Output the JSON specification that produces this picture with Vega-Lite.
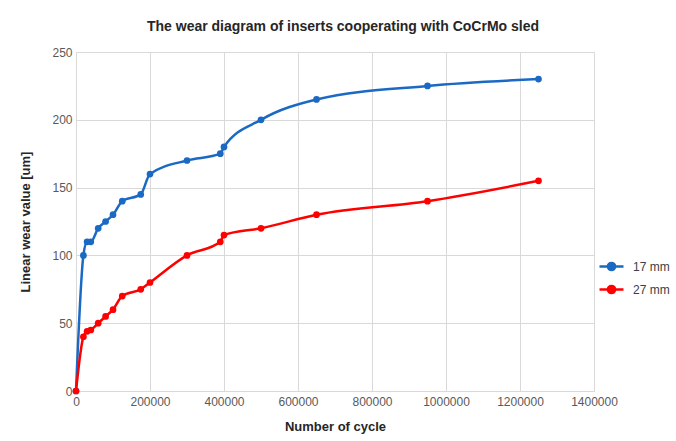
{
  "$schema": "https://vega.github.io/schema/vega-lite/v6.json",
  "width": 518,
  "height": 339,
  "autosize": "none",
  "padding": {"left": 76, "top": 52, "right": 82, "bottom": 50},
  "background": "white",
  "title": {
    "text": "The wear diagram of inserts cooperating with CoCrMo sled",
    "font": "Liberation Sans",
    "fontSize": 14,
    "fontWeight": "bold",
    "color": "#262626",
    "anchor": "middle",
    "dx": 8,
    "offset": 12
  },
  "data": {
    "values": [
      {"cycle": 0, "wear": 0, "series": "17 mm"},
      {"cycle": 20000, "wear": 100, "series": "17 mm"},
      {"cycle": 30000, "wear": 110, "series": "17 mm"},
      {"cycle": 40000, "wear": 110, "series": "17 mm"},
      {"cycle": 60000, "wear": 120, "series": "17 mm"},
      {"cycle": 80000, "wear": 125, "series": "17 mm"},
      {"cycle": 100000, "wear": 130, "series": "17 mm"},
      {"cycle": 125000, "wear": 140, "series": "17 mm"},
      {"cycle": 175000, "wear": 145, "series": "17 mm"},
      {"cycle": 200000, "wear": 160, "series": "17 mm"},
      {"cycle": 300000, "wear": 170, "series": "17 mm"},
      {"cycle": 390000, "wear": 175, "series": "17 mm"},
      {"cycle": 400000, "wear": 180, "series": "17 mm"},
      {"cycle": 500000, "wear": 200, "series": "17 mm"},
      {"cycle": 650000, "wear": 215, "series": "17 mm"},
      {"cycle": 950000, "wear": 225, "series": "17 mm"},
      {"cycle": 1250000, "wear": 230, "series": "17 mm"},
      {"cycle": 0, "wear": 0, "series": "27 mm"},
      {"cycle": 20000, "wear": 40, "series": "27 mm"},
      {"cycle": 30000, "wear": 44, "series": "27 mm"},
      {"cycle": 40000, "wear": 45, "series": "27 mm"},
      {"cycle": 60000, "wear": 50, "series": "27 mm"},
      {"cycle": 80000, "wear": 55, "series": "27 mm"},
      {"cycle": 100000, "wear": 60, "series": "27 mm"},
      {"cycle": 125000, "wear": 70, "series": "27 mm"},
      {"cycle": 175000, "wear": 75, "series": "27 mm"},
      {"cycle": 200000, "wear": 80, "series": "27 mm"},
      {"cycle": 300000, "wear": 100, "series": "27 mm"},
      {"cycle": 390000, "wear": 110, "series": "27 mm"},
      {"cycle": 400000, "wear": 115, "series": "27 mm"},
      {"cycle": 500000, "wear": 120, "series": "27 mm"},
      {"cycle": 650000, "wear": 130, "series": "27 mm"},
      {"cycle": 950000, "wear": 140, "series": "27 mm"},
      {"cycle": 1250000, "wear": 155, "series": "27 mm"}
    ]
  },
  "mark": {
    "type": "line",
    "interpolate": "monotone",
    "strokeWidth": 2.5,
    "point": {"filled": true, "size": 45, "opacity": 1}
  },
  "encoding": {
    "x": {
      "field": "cycle",
      "type": "quantitative",
      "scale": {"domain": [0, 1400000], "nice": false},
      "axis": {
        "values": [0, 200000, 400000, 600000, 800000, 1000000, 1200000, 1400000],
        "format": "d",
        "title": "Number of cycle",
        "titlePadding": 13,
        "labelPadding": 5,
        "ticks": false,
        "domainColor": "#d9d9d9",
        "labelFlush": false
      }
    },
    "y": {
      "field": "wear",
      "type": "quantitative",
      "scale": {"domain": [0, 250], "nice": false},
      "axis": {
        "values": [0, 50, 100, 150, 200, 250],
        "title": "Linear wear value [um]",
        "titlePadding": 19,
        "labelPadding": 4,
        "ticks": false,
        "domain": false
      }
    },
    "color": {
      "field": "series",
      "type": "nominal",
      "scale": {"domain": ["17 mm", "27 mm"], "range": ["#1a6ac4", "#ff0000"]},
      "legend": {
        "title": null,
        "orient": "none",
        "legendX": 522,
        "legendY": 201,
        "symbolType": "M-1,0L1,0M-0.3,0A0.3,0.3 0 1,1 0.3,0A0.3,0.3 0 1,1 -0.3,0Z",
        "symbolSize": 576,
        "symbolStrokeWidth": 2.5,
        "rowPadding": 0,
        "labelFontSize": 12,
        "labelFont": "Liberation Sans",
        "labelColor": "#404040",
        "labelOffset": 8
      }
    }
  },
  "config": {
    "view": {"stroke": null},
    "axis": {
      "grid": true,
      "gridColor": "#d9d9d9",
      "gridWidth": 1,
      "labelFont": "Liberation Sans",
      "labelFontSize": 12,
      "labelColor": "#595959",
      "titleFont": "Liberation Sans",
      "titleFontSize": 13,
      "titleFontWeight": "bold",
      "titleColor": "#262626"
    },
    "legend": {"symbolFillColor": null}
  }
}
